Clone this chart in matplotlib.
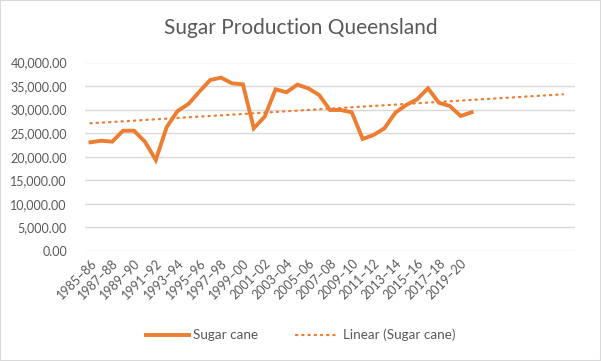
import matplotlib.pyplot as plt
import numpy as np

# Sugar cane production, Queensland
seasons = ['%d\u2013%02d' % (y, (y + 1) % 100) for y in range(1985, 2021)]
sugar_cane = [23070, 23400, 23200, 25530, 25530, 23200, 19310, 26300, 29700,
              31200, 33800, 36290, 36780, 35580, 35370, 26040, 28500, 34310,
              33680, 35300, 34520, 33100, 29920, 29920, 29430, 23770, 24620,
              26040, 29350, 30980, 32190, 34520, 31470, 30770, 28650, 29430]
n_categories = 45  # axis runs past the data so the trendline can forecast forward
trend_end = 43.4

orange = '#ED7D31'
grey = '#595959'
grid = '#D9D9D9'

plt.rcParams['font.family'] = ['Lato', 'DejaVu Sans']

fig = plt.figure(figsize=(6.01, 3.61), dpi=100)
ax = fig.add_axes([85 / 601, 1 - 251 / 361, 490 / 601, (251 - 62.5) / 361])

x = np.arange(len(sugar_cane))
ax.plot(x, sugar_cane, color=orange, lw=2.8, solid_joinstyle='miter',
        label='Sugar cane')

# linear trendline, like Excel's
slope, intercept = np.polyfit(x, sugar_cane, 1)
xt = np.array([0, trend_end])
ax.plot(xt, slope * xt + intercept, color=orange, lw=1.6,
        linestyle=(0, (0.6, 2.2)), dash_capstyle='round',
        label='Linear (Sugar cane)')

ax.set_xlim(-0.5, n_categories - 0.5)
ax.set_ylim(0, 40000)
ax.set_yticks(np.arange(0, 40001, 5000))
ax.set_yticklabels(['{:,.2f}'.format(v) for v in range(0, 40001, 5000)])
ax.set_xticks(x[::2])
ax.set_xticklabels(seasons[::2], rotation=45, ha='right',
                   rotation_mode='anchor')

ax.grid(axis='y', color=grid, lw=1)
ax.set_axisbelow(True)
for s in ax.spines.values():
    s.set_visible(False)
ax.tick_params(length=0, colors=grey, labelsize=9)
ax.tick_params(axis='y', pad=13)
ax.tick_params(axis='x', pad=4)

fig.text(0.5, 1 - 28 / 361, 'Sugar Production Queensland', color=grey,
         fontsize=15, ha='center', va='center')

fig.legend(loc='center', bbox_to_anchor=(0.5, 1 - 335 / 361), ncol=2,
           frameon=False, fontsize=9.7, labelcolor=grey, handlelength=3.2,
           handletextpad=0.3, columnspacing=2.8)

# light chart border
fig.patches.append(plt.Rectangle((0, 0), 1, 1, transform=fig.transFigure,
                                 fill=False, ec=grid, lw=1.5))

fig.savefig('out.png', dpi=100)
